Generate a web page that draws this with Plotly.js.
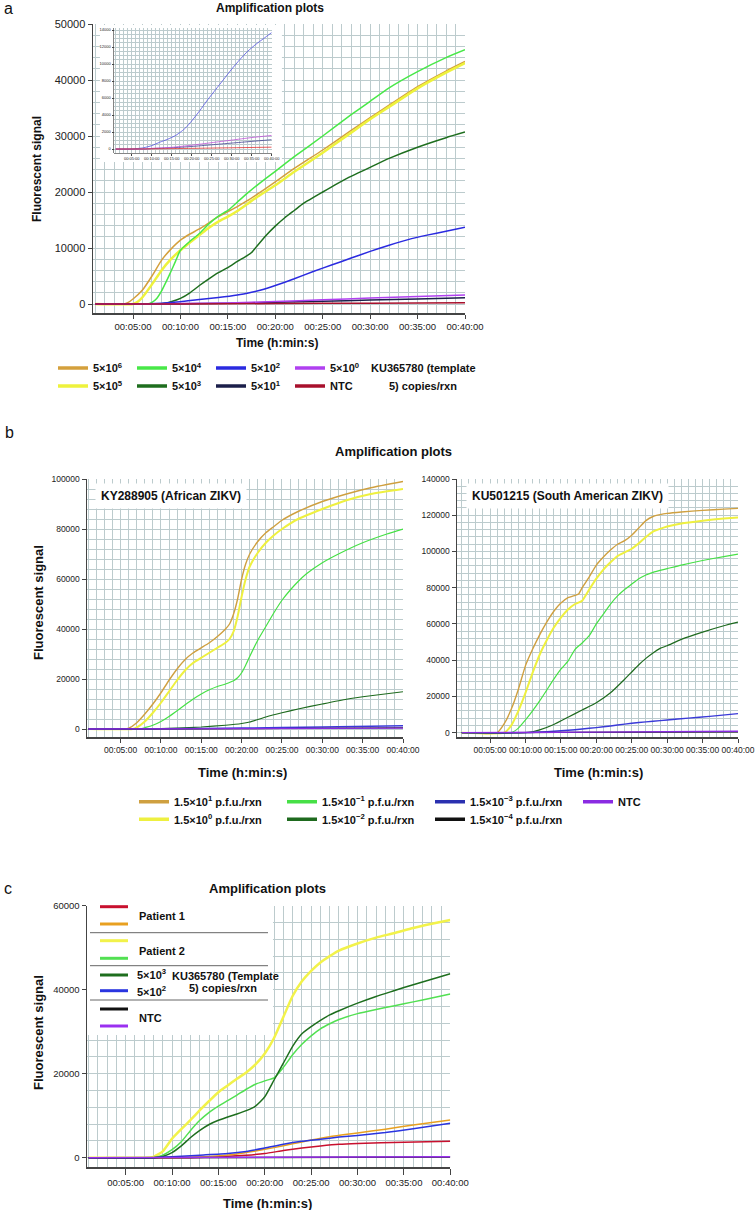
<!DOCTYPE html>
<html><head><meta charset="utf-8">
<script src="https://cdn.plot.ly/plotly-3.0.1.min.js"></script>
<style>html,body{margin:0;padding:0;background:#fff}#chart{width:756px;height:1210px}</style>
</head><body><div id="chart"></div>
<script>
// ===== DATA (time in minutes, fluorescent signal) =====
// Panel a : KU365780 (template 5) copies/rxn
const a_e6_t = [1,4,4.5,5,6,7,8,9,10,11,12,13,14,15,16,17,18,20,22,25,28,30,32,35,38,40];
const a_e6_y = [0,0,300,900,2500,5000,7800,9800,11400,12500,13400,14500,15600,16500,17400,18400,19500,21800,24200,27500,31000,33300,35500,38800,41600,43300];
const a_e5_t = [1,5,5.5,6,7,8,9,10,11,12,13,14,15,16,17,18,20,22,25,28,30,32,35,38,40];
const a_e5_y = [0,0,400,1200,3500,6000,8000,9600,11000,12300,13600,14700,15600,16600,17800,19000,21200,23600,27000,30600,33000,35200,38500,41300,43000];
const a_e4_t = [1,6.5,7,7.5,8,8.5,9,9.5,10,11,12,13,14,15,16,17,18,20,22,25,28,30,32,35,38,40];
const a_e4_y = [0,0,300,1000,2300,4000,5800,7700,9600,11200,12600,14300,15700,16700,18200,19700,21100,23700,26300,30000,33800,36200,38600,41500,44000,45400];
const a_e3_t = [1,7.5,8.5,9,10,11,12,13,14,15,16,17,17.5,18,19,20,21,22,23,25,27.5,30,32,35,38,40];
const a_e3_y = [0,0,200,400,1000,2000,3300,4500,5600,6500,7600,8600,9200,10200,12200,13900,15400,16700,18000,20000,22400,24400,26000,28000,29700,30700];
const a_e2_t = [1,5,8,10,12,14,16,17.5,18.5,20,22,24,26,28,30,32,34,36,38,40];
const a_e2_y = [0,0,150,400,800,1150,1600,2100,2500,3300,4500,5800,7000,8200,9400,10500,11500,12300,13000,13700];
const a_e1_t = [1,8,10,15,20,25,30,35,40];
const a_e1_y = [0,0,50,150,300,500,700,900,1100];
const a_e0_t = [1,8,10,15,20,25,30,35,40];
const a_e0_y = [0,0,80,200,450,750,1050,1350,1600];
const a_ntc_t = [1,10,20,30,40];
const a_ntc_y = [0,20,80,150,220];
const a_names = ['5×10<sup>6</sup>','5×10<sup>5</sup>','5×10<sup>4</sup>','5×10<sup>3</sup>','5×10<sup>2</sup>','5×10<sup>1</sup>','5×10<sup>0</sup>','NTC'];

// Panel b left : KY288905 (African ZIKV)
const bL_e1_t = [1,5.5,6,7,8,9,10,11,12,13,14,15,16,17,18,18.5,19,19.5,20,20.5,21,22,23,24,25,27,30,33,36,40];
const bL_e1_y = [0,0,300,2500,6000,10000,14500,19500,24000,27800,30500,32500,34500,37000,40000,42000,46000,52000,60000,66000,70000,75000,78500,81000,83500,87000,91000,94000,96500,99000];
const bL_e0_t = [1,6.5,7,8,9,10,11,12,13,14,15,16,17,18,18.5,19,19.5,20,20.5,21,22,23,24,25,27,30,33,36,40];
const bL_e0_y = [0,0,600,3000,6500,10500,15000,19500,23500,26500,28500,30500,32500,34500,36000,39000,45000,53000,60000,65000,70500,74500,77500,80000,84000,88000,91500,94000,96000];
const bL_m1_t = [1,7.5,8,9,10,11,12,13,14,15,16,17,18,19,19.5,20,20.5,21,22,23,24,25,26,27,28,30,32,35,38,40];
const bL_m1_y = [0,0,500,1500,3000,5000,7300,9700,12000,14000,15700,17000,18000,19300,20500,22500,25500,29000,35500,41000,46500,51500,55500,59000,62000,66500,70000,74500,78000,80000];
const bL_m2_t = [1,8.5,10,12,15,18,20,21,22,23,25,27,30,33,36,40];
const bL_m2_y = [0,0,200,400,800,1500,2200,2800,3800,4800,6500,8000,10000,11900,13300,14900];
const bL_m3_t = [1,10,20,30,40];
const bL_m3_y = [0,100,400,800,1300];
const bL_m4_t = [1,15,25,40];
const bL_m4_y = [0,50,200,500];
const bL_ntc_t = [1,20,40];
const bL_ntc_y = [0,150,350];

// Panel b right : KU501215 (South American ZIKV)
const bR_e1_t = [1,6,7,8,9,10,11,12,13,14,15,16,17,17.5,18,19,20,21,22,23,24,25,26,27,28,29,30,32,35,38,40];
const bR_e1_y = [0,0,5000,13000,24000,37000,46000,54000,61000,67000,71500,74500,75800,76500,80000,86000,92500,97000,100800,104000,106000,109000,113000,117000,119300,120300,121000,121800,122700,123400,123800];
const bR_e0_t = [1,7,8,9,10,11,12,13,14,15,16,17,18,19,20,21,22,23,24,25,26,27,28,29,30,32,35,38,40];
const bR_e0_y = [0,0,4000,12000,22000,33000,43000,51000,58000,63500,68000,71000,72800,79000,85000,90000,94000,97500,99500,101500,104500,108000,111000,112500,113800,115500,117000,118200,118800];
const bR_m1_t = [1,8,9,10,11,12,13,14,15,16,17,18,19,20,21,22,23,24,25,26,27,28,30,32,35,38,40];
const bR_m1_y = [0,0,2500,7000,12000,17500,23500,29500,35000,39500,46000,49500,53500,60000,65500,71000,75500,79000,82000,85000,87000,88500,90500,92500,95000,97200,98500];
const bR_m2_t = [1,10,11,12,14,16,18,20,22,24,25,26,27,28,29,30,32,35,38,40];
const bR_m2_y = [0,0,500,1500,4500,8500,12500,16500,22000,29500,33500,37500,41000,44000,46500,48000,51500,55500,59000,61000];
const bR_m3_t = [1,10,13,16,18,20,22,24,26,28,30,33,36,40];
const bR_m3_y = [0,0,500,1300,2000,2800,3700,4700,5600,6300,7000,8000,9000,10500];
const bR_m4_t = [1,15,40];
const bR_m4_y = [0,100,400];
const bR_ntc_t = [1,20,40];
const bR_ntc_y = [0,300,800];
const b_names = ['1.5×10<sup>1</sup> p.f.u./rxn','1.5×10<sup>0</sup> p.f.u./rxn','1.5×10<sup>−1</sup> p.f.u./rxn','1.5×10<sup>−2</sup> p.f.u./rxn','1.5×10<sup>−3</sup> p.f.u./rxn','1.5×10<sup>−4</sup> p.f.u./rxn','NTC'];

// Panel c : patients
const c_p1a_t = [1,12,15,18,20,22,24,26,28,30,35,40];
const c_p1a_y = [0,0,200,600,1000,1700,2300,2800,3200,3400,3700,3900];
const c_p1b_t = [1,10,14,17,19,21,23,25,27,30,33,36,40];
const c_p1b_y = [0,0,300,900,1600,2400,3300,4200,5000,5900,6800,7800,9000];
const c_p2a_t = [1,7,8,9,10,11,12,13,14,15,16,17,18,19,20,21,22,23,24,25,26,27,28,30,32,34,36,38,40];
const c_p2a_y = [0,0,200,1500,4500,6800,9000,11300,13500,15600,17200,18800,20300,22200,24800,28500,33500,38500,42000,44500,46500,48000,49300,51000,52400,53500,54700,55700,56600];
const c_p2b_t = [1,8,9,10,11,12,13,14,15,16,17,18,19,20,21,22,23,24,25,26,27,28,30,32,34,36,38,40];
const c_p2b_y = [0,0,600,1900,3800,6500,8900,10800,12300,13600,14900,16300,17500,18300,19000,21500,24500,27000,29000,30700,31900,32900,34300,35300,36200,37100,38000,39000];
const c_e3_t = [1,8,9,10,11,12,13,14,15,16,17,18,19,20,21,22,23,24,25,26,27,28,30,32,34,36,38,40];
const c_e3_y = [0,0,300,1200,2800,4800,6500,7900,8900,9700,10400,11200,12300,14500,18500,22500,26500,29500,31200,32700,34000,35000,36800,38400,39800,41200,42500,43800];
const c_e2_t = [1,8,10,13,16,18,20,22,24,26,28,30,33,36,40];
const c_e2_y = [0,0,200,600,1000,1500,2300,3200,3900,4400,4900,5300,6000,6900,8200];
const c_ntck_t = [1,40];
const c_ntck_y = [0,150];
const c_ntcp_t = [1,20,40];
const c_ntcp_y = [0,100,200];
const c_names = ['Patient 1','Patient 2','5×10<sup>3</sup>','5×10<sup>2</sup>','NTC'];

// ===== STYLE =====
const FONT = 'Liberation Sans, Arial, Helvetica, sans-serif';
const GRID = '#bccbcd';
const W = 756, H = 1210;
const px = v => v / W, py = v => 1 - v / H;
const T = m => { const s = Math.round(m * 60); const mm = Math.floor(s / 60), ss = s % 60;
  return '2000-01-01 00:' + String(mm).padStart(2, '0') + ':' + String(ss).padStart(2, '0'); };

const colA = ['#d4a03c','#eef23c','#48e848','#1e6e1e','#2a2ae0','#1b1f4a','#b040f0','#a8102c'];
const colB = ['#cfa040','#eef040','#46e046','#1e6a1e','#2a30b0','#111111','#8a2be2'];
const colC = ['#c8102e','#e8a020','#f2f24a','#52e052','#1e6e1e','#2a35e0','#111111','#9a30f0'];

function ln(t, y, color, width, xa, ya) {
  return {type:'scatter', mode:'lines', x:t.map(T), y:y, xaxis:xa, yaxis:ya,
    line:{color:color, width:width, shape:'spline', smoothing:0.5}, showlegend:false, hoverinfo:'skip'};
}
function leg(name, color, legend) {
  return {type:'scatter', mode:'lines', x:[null], y:[null], xaxis:'x', yaxis:'y', name:name,
    line:{color:color, width:3.5}, legend:legend, showlegend:true, hoverinfo:'skip'};
}

const traces = [
  ln(a_e6_t,a_e6_y,colA[0],1.5,'x','y'), ln(a_e5_t,a_e5_y,colA[1],2.5,'x','y'),
  ln(a_e4_t,a_e4_y,colA[2],1.5,'x','y'), ln(a_e3_t,a_e3_y,colA[3],1.5,'x','y'),
  ln(a_e2_t,a_e2_y,colA[4],1.5,'x','y'), ln(a_e1_t,a_e1_y,colA[5],1.5,'x','y'),
  ln(a_e0_t,a_e0_y,colA[6],1.5,'x','y'), ln(a_ntc_t,a_ntc_y,colA[7],1.5,'x','y'),
  // inset (low copy numbers)
  ln(a_e2_t,a_e2_y,'#5050e0',0.8,'x2','y2'), ln(a_e1_t,a_e1_y,'#404090',0.8,'x2','y2'),
  ln(a_e0_t,a_e0_y,'#c050d8',0.8,'x2','y2'), ln(a_ntc_t,a_ntc_y,'#e03030',0.8,'x2','y2'),
  // b left
  ln(bL_e1_t,bL_e1_y,colB[0],1.4,'x3','y3'), ln(bL_e0_t,bL_e0_y,colB[1],2,'x3','y3'),
  ln(bL_m1_t,bL_m1_y,colB[2],1.2,'x3','y3'), ln(bL_m2_t,bL_m2_y,colB[3],1.2,'x3','y3'),
  ln(bL_m3_t,bL_m3_y,'#3a3ad8',1.4,'x3','y3'), ln(bL_m4_t,bL_m4_y,colB[5],1.2,'x3','y3'),
  ln(bL_ntc_t,bL_ntc_y,colB[6],1.4,'x3','y3'),
  // b right
  ln(bR_e1_t,bR_e1_y,colB[0],1.4,'x4','y4'), ln(bR_e0_t,bR_e0_y,colB[1],2,'x4','y4'),
  ln(bR_m1_t,bR_m1_y,colB[2],1.2,'x4','y4'), ln(bR_m2_t,bR_m2_y,colB[3],1.2,'x4','y4'),
  ln(bR_m3_t,bR_m3_y,'#3a3ad8',1.4,'x4','y4'), ln(bR_m4_t,bR_m4_y,colB[5],1.2,'x4','y4'),
  ln(bR_ntc_t,bR_ntc_y,colB[6],1.4,'x4','y4'),
  // c
  ln(c_p1a_t,c_p1a_y,colC[0],1.5,'x5','y5'), ln(c_p1b_t,c_p1b_y,colC[1],1.5,'x5','y5'),
  ln(c_p2a_t,c_p2a_y,colC[2],2.5,'x5','y5'), ln(c_p2b_t,c_p2b_y,colC[3],1.5,'x5','y5'),
  ln(c_e3_t,c_e3_y,colC[4],1.5,'x5','y5'), ln(c_e2_t,c_e2_y,colC[5],1.5,'x5','y5'),
  ln(c_ntck_t,c_ntck_y,colC[6],1.5,'x5','y5'), ln(c_ntcp_t,c_ntcp_y,colC[7],1.5,'x5','y5'),
  // legends panel a (two rows)
  leg(a_names[0],colA[0],'legend'), leg(a_names[2],colA[2],'legend'), leg(a_names[4],colA[4],'legend'), leg(a_names[6],colA[6],'legend'),
  leg(a_names[1],colA[1],'legend2'), leg(a_names[3],colA[3],'legend2'), leg(a_names[5],colA[5],'legend2'), leg(a_names[7],colA[7],'legend2'),
  // legends panel b (two rows)
  leg(b_names[0],colB[0],'legend3'), leg(b_names[2],colB[2],'legend3'), leg(b_names[4],colB[4],'legend3'), leg(b_names[6],colB[6],'legend3'),
  leg(b_names[1],colB[1],'legend4'), leg(b_names[3],colB[3],'legend4'), leg(b_names[5],colB[5],'legend4')
];

function xax(d0, d1, r0, anchor, fs, extra) {
  return Object.assign({domain:[px(d0), px(d1)], anchor:anchor, type:'date', range:[T(r0), T(40)],
    tickformat:'%H:%M:%S', tick0:'2000-01-01 00:00:00', dtick:300000, tickangle:0,
    showgrid:true, gridcolor:GRID, gridwidth:1,
    minor:{dtick:60000, tick0:'2000-01-01 00:00:00', showgrid:true, gridcolor:GRID, gridwidth:1},
    showline:true, linecolor:'#444', linewidth:1.5, ticks:'outside', ticklen:4, tickcolor:'#444',
    tickfont:{family:FONT, size:fs, color:'#222'}, zeroline:false, fixedrange:true}, extra || {});
}
function yax(top, bot, r, dt, mdt, anchor, fs, extra) {
  return Object.assign({domain:[py(bot), py(top)], anchor:anchor, range:r, dtick:dt, tick0:0,
    tickformat:'d', showgrid:true, gridcolor:GRID, gridwidth:1,
    minor:{dtick:mdt, tick0:0, showgrid:true, gridcolor:GRID, gridwidth:1},
    showline:true, linecolor:'#444', linewidth:1.5, ticks:'outside', ticklen:4, tickcolor:'#444',
    tickfont:{family:FONT, size:fs, color:'#222'}, zeroline:false, fixedrange:true}, extra || {});
}

// pixel -> data helpers for background boxes
const pxToMin = (p, d0, d1, r0) => r0 + (p - d0) / (d1 - d0) * (40 - r0);
const pyToVal = (p, top, bot, r) => r[1] - (p - top) / (bot - top) * (r[1] - r[0]);

const rA = [-1607, 50000], rC = [-2214, 60000];

const ann = (text, x, y, o) => Object.assign({text:text, x:px(x), y:py(y), xref:'paper', yref:'paper',
  showarrow:false, xanchor:'center', yanchor:'middle', font:{family:FONT, size:12, color:'#111', weight:'bold'}}, o || {});
const big = {family:FONT, size:16, color:'#111'};
const f11 = {family:FONT, size:11, color:'#111', weight:'bold'};
const f13 = {family:FONT, size:13, color:'#111', weight:'bold'};

const annotations = [
  ann('a', 2, 8, {xanchor:'left', font:big}),
  ann('Amplification plots', 270, 8),
  ann('Fluorescent signal', 37, 169, {textangle:-90}),
  ann('Time (h:min:s)', 277, 343),
  ann('KU365780 (template', 423, 368, {font:f11}),
  ann('5) copies/rxn', 423, 386, {font:f11}),
  ann('b', 3, 432, {xanchor:'left', font:big}),
  ann('Amplification plots', 393, 451, {font:f13}),
  ann('KY288905 (African ZIKV)', 171, 496, {bgcolor:'#ffffff', borderpad:5}),
  ann('KU501215 (South American ZIKV)', 567.5, 496, {bgcolor:'#ffffff', borderpad:5}),
  ann('Fluorescent signal', 38, 603, {textangle:-90, font:f13}),
  ann('Time (h:min:s)', 242, 772, {font:f13}),
  ann('Time (h:min:s)', 598, 772, {font:f13}),
  ann('c', 2, 888, {xanchor:'left', font:big}),
  ann('Amplification plots', 267, 888, {font:f13}),
  ann('Fluorescent signal', 38, 1033, {textangle:-90, font:f13}),
  ann('Time (h:min:s)', 267, 1203, {font:f13}),
  // panel c legend text
  ann(c_names[0], 137, 916, {xanchor:'left', font:f11}),
  ann(c_names[1], 137, 950.5, {xanchor:'left', font:f11}),
  ann(c_names[2], 135, 974, {xanchor:'left', font:f11}),
  ann(c_names[3], 135, 991, {xanchor:'left', font:f11}),
  ann('KU365780 (Template', 225, 976, {font:f11}),
  ann('5) copies/rxn', 223, 988, {font:f11}),
  ann(c_names[4], 137, 1018, {xanchor:'left', font:f11})
];

const lineShape = (x0, x1, y, color, w) => ({type:'line', xref:'paper', yref:'paper', layer:'above',
  x0:px(x0), x1:px(x1), y0:py(y), y1:py(y), line:{color:color, width:w}});

const shapes = [
  // white area behind the inset in panel a
  {type:'rect', xref:'x', yref:'y', layer:'between',
   x0:T(pxToMin(100, 93, 465, 0.783)), x1:T(pxToMin(282, 93, 465, 0.783)),
   y0:pyToVal(162, 24, 313, rA), y1:pyToVal(25, 24, 313, rA), line:{width:0}, fillcolor:'#ffffff'},
  // white legend box in panel c
  {type:'rect', xref:'x5', yref:'y5', layer:'between',
   x0:T(0.833), x1:T(pxToMin(273, 87, 450.3, 0.833)),
   y0:pyToVal(1035, 905.7, 1167, rC), y1:rC[1], line:{width:0}, fillcolor:'#ffffff'},
  lineShape(100,128,906.7,colC[0],3), lineShape(100,128,924,colC[1],3),
  lineShape(90,268,932.7,'#666',1),
  lineShape(100,128,940.7,colC[2],3), lineShape(100,128,958.3,colC[3],3),
  lineShape(90,268,965.7,'#666',1),
  lineShape(100,128,975,colC[4],3), lineShape(100,128,990.7,colC[5],3),
  lineShape(90,268,1000,'#666',1),
  lineShape(100,128,1009,colC[6],3), lineShape(100,128,1026,colC[7],3)
];

const legBase = {orientation:'h', xanchor:'left', yanchor:'middle', bgcolor:'rgba(0,0,0,0)', font:f11, itemclick:false, itemdoubleclick:false};

const layout = {
  width:W, height:H, margin:{l:0, r:0, t:0, b:0},
  paper_bgcolor:'#ffffff', plot_bgcolor:'#ffffff',
  font:{family:FONT},
  xaxis: xax(93, 465, 0.783, 'y', 9.5),
  yaxis: yax(24, 313, rA, 10000, 2000, 'x', 11),
  xaxis2: xax(114.3, 271.7, 0.65, 'y2', 4, {linewidth:0.8, ticklen:2, linecolor:'#666', tickangle:0}),
  yaxis2: yax(28, 152.7, [-430, 14235], 2000, 500, 'x2', 4, {linewidth:0.8, ticklen:2, linecolor:'#666'}),
  xaxis3: xax(87, 403, 0.833, 'y3', 8.5),
  yaxis3: yax(479, 737, [-3200, 100000], 20000, 4000, 'x3', 8.5),
  xaxis4: xax(457, 738, 0.34, 'y4', 8.5),
  yaxis4: yax(479, 737, [-2400, 140000], 20000, 4000, 'x4', 8.5),
  xaxis5: xax(87, 450.3, 0.833, 'y5', 9.5, {ticklen:6}),
  yaxis5: yax(905.7, 1167, rC, 20000, 4000, 'x5', 9.5),
  legend:  Object.assign({}, legBase, {x:px(53), y:py(368), entrywidth:34}),
  legend2: Object.assign({}, legBase, {x:px(53), y:py(386), entrywidth:34}),
  legend3: Object.assign({}, legBase, {x:px(134), y:py(801.7), entrywidth:103}),
  legend4: Object.assign({}, legBase, {x:px(134), y:py(819.3), entrywidth:103}),
  annotations: annotations,
  shapes: shapes
};

Plotly.newPlot('chart', traces, layout, {displayModeBar:false, staticPlot:true});
</script></body></html>
